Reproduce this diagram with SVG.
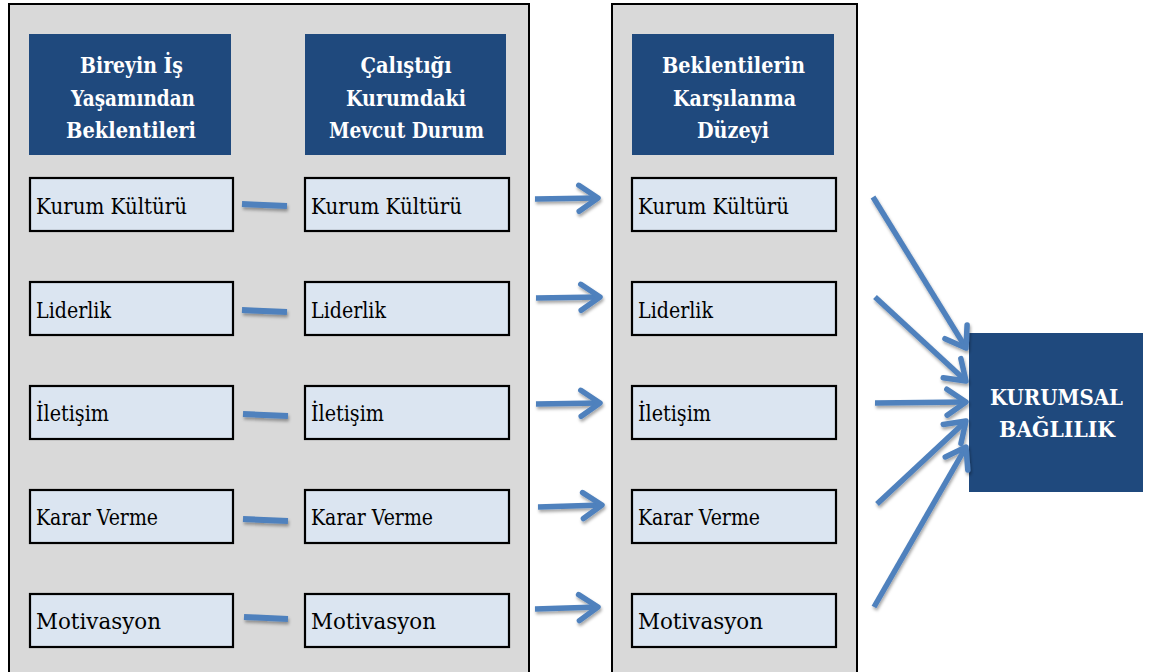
<svg xmlns="http://www.w3.org/2000/svg" width="1154" height="672" viewBox="0 0 1154 672">
  <defs>
    <style>
      .panel { fill: #d9d9d9; stroke: #000; stroke-width: 2; }
      .head { fill: #1f497d; }
      .headtxt { font-family: 'DejaVu Serif', 'Liberation Serif', serif; font-weight: bold; font-size: 22px; fill: #ffffff; text-anchor: middle; }
      .box { fill: #dbe5f1; stroke: #000; stroke-width: 2.2; }
      .lbl { font-family: 'DejaVu Serif', 'Liberation Serif', serif; font-size: 22px; fill: #000; }
      .conn { stroke: #4f81bd; stroke-width: 5.5; fill: none; }
      .dash { stroke: #4f81bd; stroke-width: 6; fill: none; }
    </style>
    <marker id="arr" markerUnits="userSpaceOnUse" viewBox="-4 -4 30 36" markerWidth="30" markerHeight="36" refX="20" refY="14" orient="auto">
      <path d="M1,1 L20,14 L1,27" fill="none" stroke="#4f81bd" stroke-width="5.5" stroke-linecap="round" stroke-linejoin="round"/>
    </marker>
    <filter id="sh" x="-20%" y="-50%" width="140%" height="200%">
      <feDropShadow dx="1" dy="2.5" stdDeviation="1.8" flood-color="#000" flood-opacity="0.35"/>
    </filter>
  </defs>

  <rect width="1154" height="672" fill="#ffffff"/>

  <g id="panel-left">
    <rect class="panel" x="9" y="4" width="520" height="680"/>
  </g>
  <g id="panel-right">
    <rect class="panel" x="612" y="4" width="245" height="680"/>
  </g>

  <g id="head1">
    <rect class="head" x="29" y="34" width="202" height="121"/>
    <text class="headtxt" x="131.5" y="73" textLength="103" lengthAdjust="spacingAndGlyphs">Bireyin İş</text>
    <text class="headtxt" x="133" y="106" textLength="124" lengthAdjust="spacingAndGlyphs">Yaşamından</text>
    <text class="headtxt" x="131" y="138" textLength="130" lengthAdjust="spacingAndGlyphs">Beklentileri</text>
  </g>
  <g id="head2">
    <rect class="head" x="305" y="34" width="201" height="121"/>
    <text class="headtxt" x="406" y="73" textLength="91" lengthAdjust="spacingAndGlyphs">Çalıştığı</text>
    <text class="headtxt" x="406" y="106" textLength="120" lengthAdjust="spacingAndGlyphs">Kurumdaki</text>
    <text class="headtxt" x="406.5" y="138" textLength="155" lengthAdjust="spacingAndGlyphs">Mevcut Durum</text>
  </g>
  <g id="head3">
    <rect class="head" x="632" y="34" width="202" height="121"/>
    <text class="headtxt" x="733.5" y="73" textLength="143" lengthAdjust="spacingAndGlyphs">Beklentilerin</text>
    <text class="headtxt" x="734.5" y="106" textLength="123" lengthAdjust="spacingAndGlyphs">Karşılanma</text>
    <text class="headtxt" x="733" y="138" textLength="72" lengthAdjust="spacingAndGlyphs">Düzeyi</text>
  </g>

  <g id="l1"><rect class="box" x="30" y="178" width="203" height="53"/><text class="lbl" x="36" y="214" textLength="151" lengthAdjust="spacingAndGlyphs">Kurum Kültürü</text></g>
  <g id="l2"><rect class="box" x="30" y="282" width="203" height="53"/><text class="lbl" x="36" y="318" textLength="75" lengthAdjust="spacingAndGlyphs">Liderlik</text></g>
  <g id="l3"><rect class="box" x="30" y="386" width="203" height="53"/><text class="lbl" x="36" y="421" textLength="73" lengthAdjust="spacingAndGlyphs">İletişim</text></g>
  <g id="l4"><rect class="box" x="30" y="490" width="203" height="53"/><text class="lbl" x="36" y="525" textLength="122" lengthAdjust="spacingAndGlyphs">Karar Verme</text></g>
  <g id="l5"><rect class="box" x="30" y="594" width="203" height="53"/><text class="lbl" x="36" y="629" textLength="125" lengthAdjust="spacingAndGlyphs">Motivasyon</text></g>

  <g id="m1"><rect class="box" x="305" y="178" width="204" height="53"/><text class="lbl" x="311" y="214" textLength="151" lengthAdjust="spacingAndGlyphs">Kurum Kültürü</text></g>
  <g id="m2"><rect class="box" x="305" y="282" width="204" height="53"/><text class="lbl" x="311" y="318" textLength="75" lengthAdjust="spacingAndGlyphs">Liderlik</text></g>
  <g id="m3"><rect class="box" x="305" y="386" width="204" height="53"/><text class="lbl" x="311" y="421" textLength="73" lengthAdjust="spacingAndGlyphs">İletişim</text></g>
  <g id="m4"><rect class="box" x="305" y="490" width="204" height="53"/><text class="lbl" x="311" y="525" textLength="122" lengthAdjust="spacingAndGlyphs">Karar Verme</text></g>
  <g id="m5"><rect class="box" x="305" y="594" width="204" height="53"/><text class="lbl" x="311" y="629" textLength="125" lengthAdjust="spacingAndGlyphs">Motivasyon</text></g>

  <g id="r1"><rect class="box" x="632" y="178" width="204" height="53"/><text class="lbl" x="638" y="214" textLength="151" lengthAdjust="spacingAndGlyphs">Kurum Kültürü</text></g>
  <g id="r2"><rect class="box" x="632" y="282" width="204" height="53"/><text class="lbl" x="638" y="318" textLength="75" lengthAdjust="spacingAndGlyphs">Liderlik</text></g>
  <g id="r3"><rect class="box" x="632" y="386" width="204" height="53"/><text class="lbl" x="638" y="421" textLength="73" lengthAdjust="spacingAndGlyphs">İletişim</text></g>
  <g id="r4"><rect class="box" x="632" y="490" width="204" height="53"/><text class="lbl" x="638" y="525" textLength="122" lengthAdjust="spacingAndGlyphs">Karar Verme</text></g>
  <g id="r5"><rect class="box" x="632" y="594" width="204" height="53"/><text class="lbl" x="638" y="629" textLength="125" lengthAdjust="spacingAndGlyphs">Motivasyon</text></g>

  <g id="kurumsal">
    <rect class="head" x="969" y="333" width="174" height="159"/>
    <text class="headtxt" x="1056.5" y="405" textLength="133" lengthAdjust="spacingAndGlyphs">KURUMSAL</text>
    <text class="headtxt" x="1057" y="437" textLength="116" lengthAdjust="spacingAndGlyphs">BAĞLILIK</text>
  </g>

  <g id="connectors" filter="url(#sh)">
    <line class="dash" x1="242" y1="204" x2="287" y2="206"/>
    <line class="dash" x1="242" y1="310" x2="287" y2="312"/>
    <line class="dash" x1="243" y1="414" x2="288" y2="416"/>
    <line class="dash" x1="243" y1="519" x2="288" y2="521"/>
    <line class="dash" x1="244" y1="617" x2="288" y2="619"/>

    <line class="conn" marker-end="url(#arr)" x1="535" y1="199" x2="598" y2="198"/>
    <line class="conn" marker-end="url(#arr)" x1="536" y1="298" x2="600" y2="297"/>
    <line class="conn" marker-end="url(#arr)" x1="536" y1="404" x2="600" y2="403"/>
    <line class="conn" marker-end="url(#arr)" x1="538" y1="507" x2="602" y2="505"/>
    <line class="conn" marker-end="url(#arr)" x1="535" y1="609" x2="598" y2="607"/>

    <line class="conn" marker-end="url(#arr)" x1="873" y1="197" x2="966" y2="348"/>
    <line class="conn" marker-end="url(#arr)" x1="875" y1="297" x2="966" y2="381"/>
    <line class="conn" marker-end="url(#arr)" x1="875" y1="403" x2="966" y2="402"/>
    <line class="conn" marker-end="url(#arr)" x1="877" y1="504" x2="966" y2="421"/>
    <line class="conn" marker-end="url(#arr)" x1="874" y1="607" x2="966" y2="447"/>
  </g>
</svg>
